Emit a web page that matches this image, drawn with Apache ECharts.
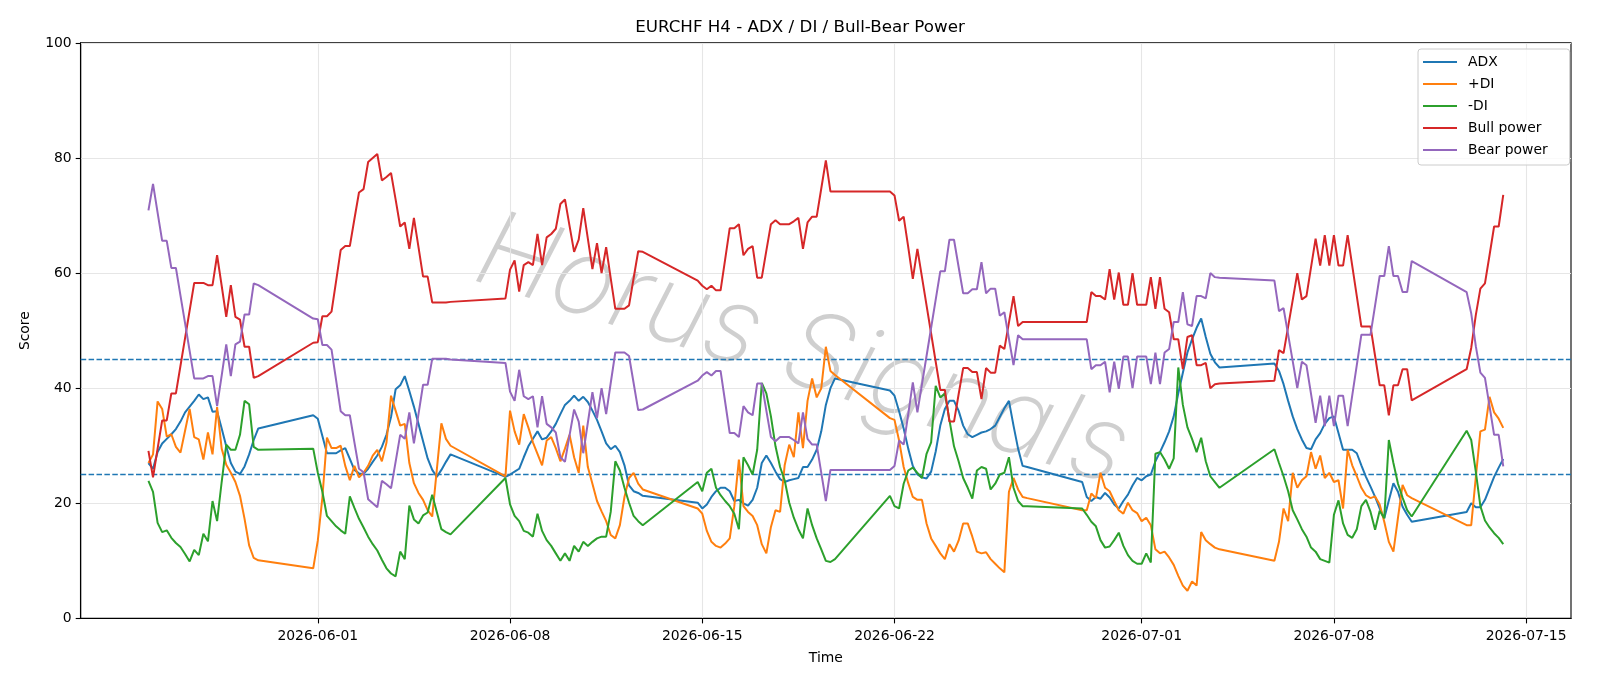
<!DOCTYPE html>
<html>
<head>
<meta charset="utf-8">
<script src="https://cdn.jsdelivr.net/npm/echarts@6/dist/echarts.min.js"></script>
<style>
html,body{margin:0;padding:0;background:#fff;}
#chart{width:1600px;height:686px;}
</style>
</head>
<body>
<div id="chart"></div>
<script>
// Trading sessions (UTC): each session is a run of consecutive 4-hour bars
const sessionStarts = ['2026-05-25T20:00:00Z','2026-05-31T20:00:00Z','2026-06-07T20:00:00Z','2026-06-14T20:00:00Z',
  '2026-06-21T20:00:00Z','2026-06-28T20:00:00Z','2026-07-05T20:00:00Z','2026-07-12T20:00:00Z'];
const sessionBars = [25,31,31,31,31,31,31,9];
const tickDates = ['2026-06-01','2026-06-08','2026-06-15','2026-06-22','2026-07-01','2026-07-08','2026-07-15'];
const levels = [25,45];
const seriesNames = ['ADX','+DI','-DI','Bull power','Bear power'];

const adx = [
 27.0,26.0,28.9,30.4,31.2,32.0,32.9,34.2,35.8,36.8,37.8,38.9,38.1,38.4,35.9,36.0,33.0,29.9,27.0,25.5,25.1,26.4,28.5,31.0,33.0,
 35.3,34.7,31.7,28.7,28.7,28.7,29.2,29.6,27.7,25.8,25.2,25.1,26.0,27.2,28.3,29.8,31.9,35.0,39.8,40.5,42.1,39.5,36.8,33.8,30.8,27.8,25.8,24.6,25.8,27.2,28.5,
 24.6,25.0,25.5,26.0,28.0,29.9,31.2,32.5,31.1,31.4,32.5,33.8,35.5,37.1,37.8,38.7,37.8,38.5,37.6,36.1,34.5,32.5,30.4,29.4,30.0,28.9,26.6,23.1,22.1,21.8,21.3,
 20.1,19.1,19.8,21.1,22.1,22.7,22.7,22.1,20.4,20.6,20.0,19.6,20.6,22.7,27.0,28.3,27.0,25.5,24.2,23.7,24.0,24.2,24.4,26.3,26.3,27.6,29.3,32.5,37.1,40.0,41.7,
 39.6,38.7,36.0,33.0,29.5,26.5,25.0,24.5,24.3,25.5,29.0,33.5,36.4,37.8,37.8,36.1,33.5,32.0,31.5,31.9,32.3,32.5,32.9,33.5,35.0,36.5,37.8,33.5,29.5,26.5,26.3,
 23.7,21.1,20.4,21.1,20.8,21.8,21.0,19.8,19.1,20.4,21.5,23.1,24.4,24.0,24.7,25.0,27.3,28.9,30.6,32.5,35.1,39.1,42.7,46.2,48.5,50.5,52.1,48.9,46.0,44.5,43.6,
 44.3,43.0,40.7,37.8,35.1,32.9,31.1,29.6,29.4,31.1,32.2,33.8,34.8,35.1,32.2,29.3,29.3,29.3,28.7,26.6,24.6,22.9,21.1,19.1,17.4,20.5,23.5,22.0,19.4,18.0,16.8,
 18.5,20.0,19.3,19.3,20.6,22.6,24.6,26.2,27.7
];
const plusDI = [
 27.0,28.5,37.7,36.4,31.6,32.0,29.8,28.8,32.6,36.4,31.5,31.1,27.6,32.3,28.5,36.7,29.5,26.7,25.3,23.7,21.3,17.3,12.7,10.5,10.1,
 8.7,13.5,21.0,31.4,29.6,29.6,30.0,26.5,24.0,26.5,24.5,25.3,26.5,28.3,29.3,27.3,30.5,38.7,36.1,33.5,33.8,27.0,23.5,21.8,20.6,18.8,17.7,25.8,33.9,31.2,30.0,
 24.7,36.1,32.5,30.2,35.5,33.2,30.6,28.6,26.6,30.9,31.5,29.6,27.3,29.5,31.9,28.0,25.3,33.5,26.3,23.4,20.4,18.6,16.9,14.5,13.9,16.2,21.1,24.4,25.3,23.4,22.4,
 19.1,18.2,15.2,13.3,12.6,12.3,13.0,13.9,19.5,27.6,19.5,18.5,17.8,16.2,12.9,11.3,15.9,18.8,18.5,26.6,30.2,28.0,35.8,29.6,37.8,41.7,38.4,40.0,47.2,43.0,42.3,
 34.8,34.5,30.9,26.3,23.5,21.1,20.6,20.6,16.5,13.9,12.6,11.3,10.3,12.9,11.6,13.5,16.5,16.5,14.2,11.6,11.3,11.5,10.3,9.5,8.7,8.0,22.0,24.4,22.4,21.1,20.9,
 18.8,18.8,21.7,20.9,25.3,22.7,22.1,20.4,18.8,18.2,20.1,18.8,18.3,16.9,17.5,16.2,12.0,11.3,11.6,10.6,9.3,7.4,5.7,4.8,6.4,5.7,15.0,13.6,12.9,12.3,12.0,
 10.0,13.3,19.1,16.9,25.3,22.7,24.0,24.7,28.9,26.0,28.3,24.4,25.3,23.7,24.0,19.1,29.3,26.6,24.7,22.7,21.4,20.9,21.2,19.8,16.8,13.3,11.6,17.5,23.2,21.4,20.9,
 16.2,16.2,24.5,32.5,32.8,38.5,35.8,34.7,33.1
];
const minusDI = [
 23.9,22.0,16.6,15.0,15.3,14.0,13.1,12.4,11.2,9.9,11.9,11.0,14.7,13.4,20.4,16.9,23.7,30.2,29.3,29.3,31.9,37.8,37.2,29.8,29.3,
 29.5,25.3,22.0,17.8,16.9,16.0,15.3,14.7,21.2,19.2,17.3,15.8,14.2,12.9,11.8,10.2,8.7,7.8,7.3,11.6,10.3,19.6,17.2,16.5,17.9,18.4,21.5,18.5,15.5,15.0,14.6,
 24.4,19.8,17.8,16.9,15.2,14.9,14.2,18.2,15.2,13.6,12.6,11.3,10.0,11.3,10.0,12.6,11.6,13.3,12.6,13.3,13.9,14.2,14.2,18.5,27.3,25.7,22.7,20.1,17.8,16.9,16.2,
 23.7,22.1,25.3,26.0,22.7,21.4,20.4,19.5,18.2,15.5,28.0,26.6,25.0,29.3,40.9,39.1,35.1,29.9,26.3,24.0,20.1,17.5,15.5,13.9,19.1,16.2,13.9,12.0,10.0,9.8,10.3,
 21.3,19.5,19.1,23.4,25.7,26.2,25.3,24.4,28.6,30.6,40.4,38.4,39.1,34.5,29.9,27.3,24.4,22.7,20.8,25.7,26.3,26.0,22.4,23.4,25.0,25.3,28.0,22.7,20.4,19.5,19.5,
 19.1,18.0,16.8,16.0,13.6,12.3,12.5,13.6,14.9,12.6,11.0,10.0,9.5,9.5,11.3,9.7,28.6,28.9,27.6,26.0,27.8,43.6,37.1,33.2,31.2,28.9,31.4,27.3,24.7,23.7,22.7,
 29.4,27.0,24.7,22.1,18.8,17.2,15.5,14.2,12.3,11.6,10.3,10.0,9.7,18.0,20.5,16.5,14.5,14.0,15.5,19.5,20.6,18.5,15.4,18.7,17.4,31.0,27.0,23.4,21.0,18.8,17.7,
 32.6,31.0,25.5,19.5,17.0,15.8,14.8,14.0,12.9
];
const bullPower = [
 29.1,24.5,29.5,34.4,34.4,39.1,39.1,43.9,48.7,53.5,58.3,58.3,58.3,57.9,57.9,63.1,57.8,52.4,57.9,52.4,51.9,47.2,47.2,41.8,42.1,
 47.9,48.0,52.5,52.5,53.3,58.6,64.0,64.7,64.7,69.4,74.0,74.6,79.3,80.0,80.7,76.1,76.7,77.4,72.8,68.1,68.8,64.2,69.6,64.5,59.4,59.4,54.9,54.9,54.9,54.9,55.0,
 55.6,60.6,62.2,56.8,61.4,61.9,61.4,66.8,61.4,66.2,66.8,67.7,72.0,72.8,68.2,63.7,65.8,71.3,66.0,60.7,65.2,60.0,64.5,59.1,53.8,53.8,53.8,54.4,59.1,63.8,63.7,
 58.7,57.8,57.2,57.8,57.0,57.0,62.4,67.8,67.8,68.5,63.1,64.2,64.7,59.2,59.2,63.9,68.5,69.2,68.5,68.5,68.5,69.0,69.6,64.2,68.8,69.8,69.8,74.7,79.6,74.2,74.2,
 74.2,73.5,69.1,69.8,64.5,59.0,64.2,59.3,54.4,49.5,44.6,39.7,39.7,34.2,34.2,38.9,43.5,43.5,42.8,42.8,38.1,43.5,42.7,42.7,47.4,46.8,51.4,56.0,50.8,51.5,51.5,
 51.5,51.5,56.7,56.0,56.0,55.4,60.7,55.4,60.1,54.5,54.5,60.0,54.5,54.5,54.5,59.3,53.8,59.3,53.8,53.2,48.5,48.5,43.3,48.9,49.2,44.0,44.0,44.4,40.0,40.7,40.8,
 41.3,46.6,46.1,50.7,55.3,60.0,55.4,56.0,61.0,66.0,61.3,66.6,61.3,66.6,61.3,61.3,66.6,61.3,56.0,50.7,50.7,50.7,45.6,40.5,40.5,35.3,40.5,40.5,43.3,43.3,37.9,
 43.3,47.0,52.7,57.3,58.2,63.1,68.1,68.1,73.6
];
const bearPower = [
 70.9,75.5,70.5,65.6,65.6,60.9,60.9,56.1,51.3,46.5,41.7,41.7,41.7,42.1,42.1,36.9,42.2,47.6,42.1,47.6,48.1,52.8,52.8,58.2,57.9,
 52.1,52.0,47.5,47.5,46.7,41.4,36.0,35.3,35.3,30.6,26.0,25.4,20.7,20.0,19.3,23.9,23.3,22.6,27.2,31.9,31.2,35.8,30.4,35.5,40.6,40.6,45.1,45.1,45.1,45.1,45.0,
 44.4,39.4,37.8,43.2,38.6,38.1,38.6,33.2,38.6,33.8,33.2,32.3,28.0,27.2,31.8,36.3,34.2,28.7,34.0,39.3,34.8,40.0,35.5,40.9,46.2,46.2,46.2,45.6,40.9,36.2,36.3,
 41.3,42.2,42.8,42.2,43.0,43.0,37.6,32.2,32.2,31.5,36.9,35.8,35.3,40.8,40.8,36.1,31.5,30.8,31.5,31.5,31.5,31.0,30.4,35.8,31.2,30.2,30.2,25.3,20.4,25.8,25.8,
 25.8,26.5,30.9,30.2,35.5,41.0,35.8,40.7,45.6,50.5,55.4,60.3,60.3,65.8,65.8,61.1,56.5,56.5,57.2,57.2,61.9,56.5,57.3,57.3,52.6,53.2,48.6,44.0,49.2,48.5,48.5,
 48.5,48.5,43.3,44.0,44.0,44.6,39.3,44.6,39.9,45.5,45.5,40.0,45.5,45.5,45.5,40.7,46.2,40.7,46.2,46.8,51.5,51.5,56.7,51.1,50.8,56.0,56.0,55.6,60.0,59.3,59.2,
 58.7,53.4,53.9,49.3,44.7,40.0,44.6,44.0,39.0,34.0,38.7,33.4,38.7,33.4,38.7,38.7,33.4,38.7,44.0,49.3,49.3,49.3,54.4,59.5,59.5,64.7,59.5,59.5,56.7,56.7,62.1,
 56.7,53.0,47.3,42.7,41.8,36.9,31.9,31.9,26.4
];

// ---- build timestamps ----
const H4 = 4*3600*1000;
const times = [];
sessionStarts.forEach((s,k)=>{ const t0 = Date.parse(s); for(let i=0;i<sessionBars[k];i++) times.push(t0 + i*H4); });
const pair = arr => times.map((t,i)=>[t, arr[i]]);
const span = times[times.length-1]-times[0];
const xMin = times[0]-0.05*span, xMax = times[times.length-1]+0.05*span;
const tickVals = tickDates.map(d=>Date.parse(d+'T00:00:00Z'));
const colors = ['#1f77b4','#ff7f0e','#2ca02c','#d62728','#9467bd'];
const FONT = '"DejaVu Sans", sans-serif';
const pad2 = n => (n<10?'0':'')+n;
const fmtDate = v => { const d = new Date(v); return d.getUTCFullYear()+'-'+pad2(d.getUTCMonth()+1)+'-'+pad2(d.getUTCDate()); };

const chart = echarts.init(document.getElementById('chart'), null, {renderer:'canvas'});
const mk = (name, arr, idx, extra) => Object.assign({
  name, type:'line', data: pair(arr), showSymbol:false, symbol:'none',
  lineStyle:{width:2, color:colors[idx]}, itemStyle:{color:colors[idx]}, z: 3+idx
}, extra||{});

chart.setOption({
  animation:false,
  backgroundColor:'#ffffff',
  textStyle:{fontFamily:FONT},
  title:{text:'EURCHF H4 - ADX / DI / Bull-Bear Power', left:'center', top:19, padding:0,
    textStyle:{fontFamily:FONT, fontSize:16.7, fontWeight:'normal', color:'#000'}},
  legend:{
    data: seriesNames, orient:'vertical', left:1418, top:49,
    padding:[6,22,8,5], itemGap:8, itemWidth:34, itemHeight:14,
    icon:'path://M0,6.1 L34,6.1 L34,7.9 L0,7.9 Z',
    backgroundColor:'rgba(255,255,255,0.8)', borderColor:'#cccccc', borderWidth:1, borderRadius:3,
    textStyle:{fontFamily:FONT, fontSize:13.9, color:'#000', padding:[0,0,0,6], lineHeight:14}
  },
  graphic:[{
    type:'text', x:802, y:352, rotation:-0.31, z:0, silent:true,
    style:{text:'Horus Signals', font:'italic 200 106px Inter, Roboto, "Open Sans", "DejaVu Sans"', fill:'rgba(160,160,160,0.5)',
      textAlign:'center', textVerticalAlign:'middle',
      shadowColor:'rgba(0,0,0,0.35)', shadowBlur:2, shadowOffsetX:2, shadowOffsetY:2}
  }],
  grid:{left:80.7, right:29, top:42.9, bottom:67.6, show:true, borderColor:'#000', borderWidth:1.1, backgroundColor:'transparent'},
  xAxis:{
    type:'value', min:xMin, max:xMax, scale:true,
    name:'Time', nameLocation:'middle', nameGap:33,
    nameTextStyle:{fontFamily:FONT, fontSize:13.9, color:'#000'},
    axisLine:{show:true, onZero:false, lineStyle:{color:'#000', width:1.1}},
    axisTick:{show:true, inside:false, length:5, customValues:tickVals, lineStyle:{color:'#000', width:1.1}},
    axisLabel:{show:true, customValues:tickVals, margin:11, color:'#000', fontFamily:FONT, fontSize:13.9,
      formatter: fmtDate},
    splitLine:{show:true, lineStyle:{color:'#e6e6e6', width:1.1}}
  },
  yAxis:{
    type:'value', min:0, max:100, interval:20,
    name:'Score', nameLocation:'middle', nameGap:48, nameRotate:90,
    nameTextStyle:{fontFamily:FONT, fontSize:13.9, color:'#000'},
    axisLine:{show:true, lineStyle:{color:'#000', width:1.1}},
    axisTick:{show:true, inside:false, length:5, lineStyle:{color:'#000', width:1.1}},
    axisLabel:{margin:9, color:'#000', fontFamily:FONT, fontSize:13.9},
    splitLine:{show:true, lineStyle:{color:'#e6e6e6', width:1.1}}
  },
  series:[
    mk(seriesNames[0], adx, 0, {markLine:{silent:true, symbol:'none', label:{show:false},
      lineStyle:{color:'#1f77b4', type:[5.5,2.4], width:1.4}, data: levels.map(v=>({yAxis:v})), z:2}}),
    mk(seriesNames[1], plusDI, 1),
    mk(seriesNames[2], minusDI, 2),
    mk(seriesNames[3], bullPower, 3),
    mk(seriesNames[4], bearPower, 4)
  ]
});
</script>
</body>
</html>
